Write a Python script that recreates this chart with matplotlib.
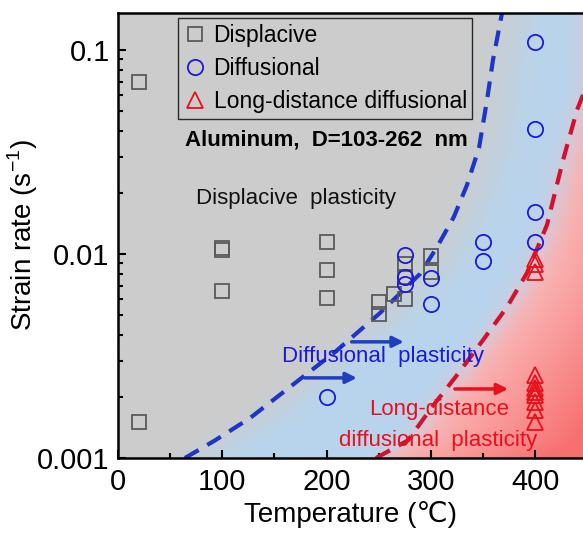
import numpy as np
import matplotlib
matplotlib.use('Agg')
import matplotlib.pyplot as plt
from matplotlib.ticker import FixedLocator, MultipleLocator, NullFormatter, FixedFormatter

plt.rcParams['font.family'] = ['Liberation Sans', 'DejaVu Sans']

# --- data ---
disp_T = [20, 20, 100, 100, 100, 200, 200, 200, 250, 250, 265, 275, 275, 275, 300, 300]
disp_rate = [0.070, 0.0015, 0.0107, 0.0105, 0.0066, 0.0114, 0.0083, 0.0061,
             0.0058, 0.0051, 0.0064, 0.0089, 0.0077, 0.0060, 0.0098, 0.0082]

diff_T = [200, 275, 275, 275, 300, 300, 350, 350, 400, 400, 400, 400]
diff_rate = [0.0020, 0.0099, 0.0077, 0.0071, 0.0076, 0.0057, 0.0114, 0.0092,
             0.109, 0.041, 0.0161, 0.0114]

long_T = [400] * 11
long_rate = [0.0095, 0.0089, 0.0082, 0.00255, 0.00233, 0.0022, 0.0021,
             0.00204, 0.00188, 0.00172, 0.0015]

# boundary between displacive / diffusional (blue dashed)
blue_T = [64.2, 93.0, 126.6, 164.9, 208.1, 251.2, 289.5, 305.8, 322.0, 334.6,
          346.1, 353.8, 359.5, 368.2]
blue_rate = [0.001, 0.00122, 0.00157, 0.00223, 0.00331, 0.00514, 0.00798,
             0.0108, 0.0152, 0.0218, 0.0331, 0.0569, 0.0893, 0.152]

# boundary for long-distance diffusional (red dashed)
red_T = [247.4, 278.0, 301.1, 325.0, 350.0, 373.0, 392.1, 411.3, 426.7, 440.1, 447.7]
red_rate = [0.001, 0.00122, 0.00178, 0.00255, 0.00379, 0.0055, 0.00807,
            0.0139, 0.0289, 0.0508, 0.0637]

xmax = 445.8
ymin, ymax = 0.001, 0.1518

fig = plt.figure(figsize=(5.83, 5.34), dpi=100)
ax = fig.add_axes([0.2024, 0.1423, 0.7976, 0.8334])

# --- shaded background ---
Tg = np.linspace(0, xmax, 450)
Lg = np.linspace(np.log10(ymin), np.log10(ymax), 300)
TT, LL = np.meshgrid(Tg, Lg)
tb = np.interp(LL, np.log10(blue_rate), blue_T)
tr = np.interp(LL, np.log10(red_rate), red_T)
wb = 1 / (1 + np.exp(-(TT - tb - 18) / 12))
wr = 1 / (1 + np.exp(-(TT - tr - 4) / 7))
depth = np.clip((TT - tr) / 160, 0, 1)[..., None]
gray = np.array([0.80, 0.80, 0.80])
blue = np.array([0.72, 0.83, 0.93])
red_lo = np.array([0.98, 0.73, 0.73])
red_hi = np.array([0.97, 0.44, 0.44])
red = red_lo * (1 - depth) + red_hi * depth
rgb = gray * (1 - wb[..., None]) + blue * wb[..., None]
rgb = rgb * (1 - wr[..., None]) + red * wr[..., None]
ax.pcolormesh(TT, 10 ** LL, rgb, shading='auto', zorder=0, rasterized=True)

# --- boundaries ---
ax.plot(blue_T, blue_rate, color='#1f35c8', lw=3, dashes=(3.8, 2.4), zorder=2)
ax.plot(red_T, red_rate, color='#d5102e', lw=3, dashes=(3.8, 2.4), zorder=2)

# --- points ---
ax.plot(disp_T, disp_rate, 's', ms=10, mfc='none', mec='#5a5a5a', mew=1.3,
        zorder=3, label='Displacive')
ax.plot(diff_T, diff_rate, 'o', ms=11, mfc='none', mec='#1a1ad8', mew=1.3,
        zorder=3, label='Diffusional')
ax.plot(long_T, long_rate, '^', ms=11, mfc='none', mec='#e8101a', mew=1.3,
        zorder=3, label='Long-distance diffusional')

# --- arrows ---
arr = dict(arrowstyle='-|>', lw=2.5, mutation_scale=16, shrinkA=0, shrinkB=0)
ax.annotate('', xy=(274, 0.00371), xytext=(224, 0.00371),
            arrowprops=dict(color='#1f3fc0', **arr), zorder=4)
ax.annotate('', xy=(229, 0.00247), xytext=(179, 0.00247),
            arrowprops=dict(color='#1f3fc0', **arr), zorder=4)
ax.annotate('', xy=(374, 0.00218), xytext=(323, 0.00218),
            arrowprops=dict(color='#e8101a', **arr), zorder=4)

# --- text ---
ax.text(200, 0.0362, 'Aluminum,  D=103-262  nm', fontsize=16, fontweight='bold',
        ha='center', va='center', zorder=5)
ax.text(171, 0.0188, 'Displacive  plasticity', fontsize=16, ha='center',
        va='center', color='#111111', zorder=5)
ax.text(254, 0.00313, 'Diffusional  plasticity', fontsize=16, ha='center',
        va='center', color='#1a1ad8', zorder=5)
ax.text(308, 0.00172, 'Long-distance', fontsize=16, ha='center',
        va='center', color='#e8101a', zorder=5)
ax.text(307, 0.00122, 'diffusional  plasticity', fontsize=16, ha='center',
        va='center', color='#e8101a', zorder=5)

# --- axes ---
ax.set_yscale('log')
ax.set_xlim(0, xmax)
ax.set_ylim(ymin, ymax)
ax.xaxis.set_major_locator(MultipleLocator(100))
ax.xaxis.set_minor_locator(MultipleLocator(50))
ax.yaxis.set_major_locator(FixedLocator([0.001, 0.01, 0.1]))
ax.yaxis.set_major_formatter(FixedFormatter(['0.001', '0.01', '0.1']))
minors = [m * 10.0 ** e for e in (-3, -2, -1) for m in range(2, 10)]
ax.yaxis.set_minor_locator(FixedLocator(minors))
ax.yaxis.set_minor_formatter(NullFormatter())
ax.tick_params(which='both', direction='in', labelsize=21, width=1.5,
               top=False, right=False)
ax.tick_params(which='major', length=6)
ax.tick_params(which='minor', length=3.5)
ax.tick_params(axis='x', pad=7)
ax.tick_params(axis='y', pad=6)
ax.spines['right'].set_visible(False)
for s in ('left', 'bottom', 'top'):
    ax.spines[s].set_linewidth(1.8)

ax.set_xlabel('Temperature (℃)', fontsize=20, labelpad=4)
ax.set_ylabel('Strain rate (s$^{\\mathregular{-1}}$)', fontsize=20)
ax.yaxis.set_label_coords(-0.168, 0.5)

leg = ax.legend(loc='upper left', bbox_to_anchor=(0.129, 0.989), fontsize=16.5,
                frameon=True, fancybox=False, edgecolor='black', facecolor='none',
                borderpad=0.25, handletextpad=0.3, labelspacing=0.45,
                handlelength=1.0, borderaxespad=0)
leg.get_frame().set_linewidth(1.0)

fig.savefig('out.png', dpi=100)
